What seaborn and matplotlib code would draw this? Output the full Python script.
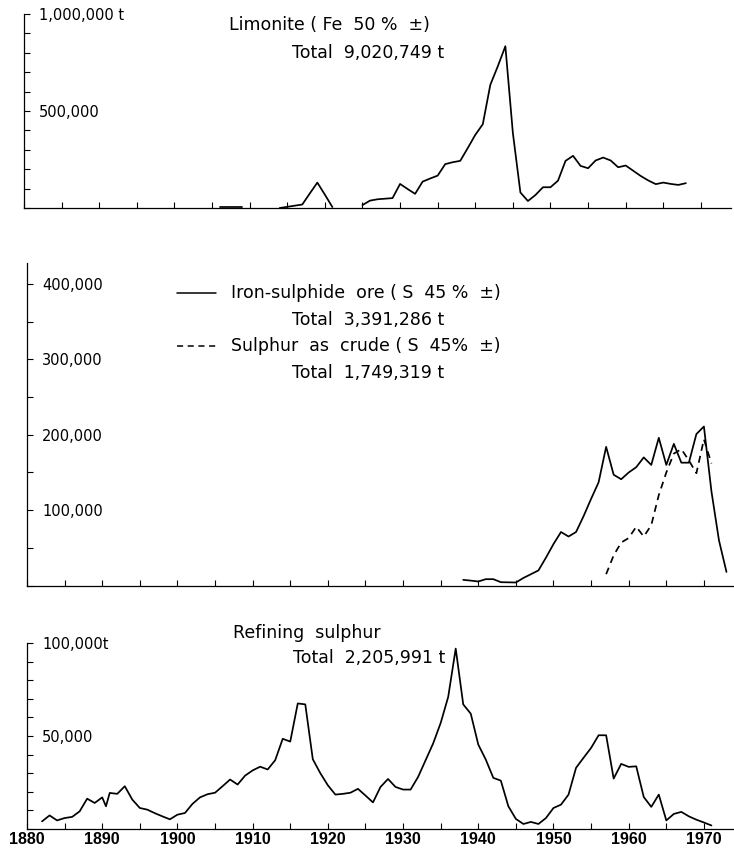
import numpy as np
import pandas as pd
import matplotlib
matplotlib.use("Agg")
import matplotlib.pyplot as plt
from matplotlib.lines import Line2D
from matplotlib.ticker import FixedLocator, FixedFormatter
import seaborn as sns

# ---------------------------------------------------------------------------
# Annual output, in thousand tonnes
# ---------------------------------------------------------------------------
# Limonite (Fe 50 % ±) - production came in three separate runs
limonite_years_1 = [1906, 1907, 1908, 1909]
limonite_values_1 = [3, 3, 3, 3]
limonite_years_2 = [1914, 1915, 1916, 1917, 1918, 1919, 1920, 1921]
limonite_values_2 = [0, 6, 12, 18, 75, 131, 69, 5]
limonite_years_3 = list(range(1925, 1969))
limonite_values_3 = [15, 38, 45, 48, 51, 124, 98, 73, 136, 152,
                     167, 226, 236, 243, 309, 377, 432, 635, 731, 834,
                     386, 80, 36, 67, 107, 107, 141, 243, 269, 217,
                     205, 245, 260, 245, 210, 219, 192, 165, 142, 123,
                     131, 124, 119, 128]

# Iron-sulphide ore (S 45 % ±)
pyrite_years = list(range(1938, 1974))
pyrite_values = [7.5, 6.5, 5.3, 8.4, 8.4, 4.4, 4.2, 4.0, 10, 15,
                 20, 37, 55, 71, 65, 71, 92, 115, 137, 184,
                 147, 141, 150, 157, 170, 160, 196, 160, 188, 163,
                 163, 201, 211, 125, 60, 18]

# Sulphur as crude (S 45 % ±)
crude_years = list(range(1957, 1972))
crude_values = [15, 40, 57, 63, 78, 65, 80, 120, 150, 175,
                181, 166, 149, 194, 162]

# Refining sulphur
refining_years = [1882, 1883, 1884, 1885, 1886, 1887, 1888, 1889, 1890, 1890.5,
                  1891, 1892, 1893, 1894, 1895, 1896, 1897, 1898, 1899, 1900,
                  1901, 1902, 1903, 1904, 1905, 1906, 1907, 1908, 1909, 1910,
                  1911, 1912, 1913, 1914, 1915, 1916, 1917, 1918, 1919, 1920,
                  1921, 1922, 1923, 1924, 1925, 1926, 1927, 1928, 1929, 1930,
                  1931, 1932, 1933, 1934, 1935, 1936, 1937, 1938, 1939, 1940,
                  1941, 1942, 1943, 1944, 1945, 1946, 1947, 1948, 1949, 1950,
                  1951, 1952, 1953, 1954, 1955, 1956, 1957, 1958, 1959, 1960,
                  1961, 1962, 1963, 1964, 1965, 1966, 1967, 1968, 1969, 1970,
                  1971]
refining_values = [4.1, 7.3, 4.6, 5.9, 6.5, 9.5, 16.3, 14.0, 17.0, 12.2,
                   19.4, 18.9, 23.0, 15.8, 11.3, 10.4, 8.5, 6.8, 5.2, 7.7,
                   8.6, 13.5, 17.0, 18.7, 19.5, 23.0, 26.6, 23.9, 28.7, 31.5,
                   33.5, 32.0, 37.0, 48.5, 47.0, 67.5, 67.0, 37.5, 30.0, 23.5,
                   18.5, 18.9, 19.5, 21.6, 18.0, 14.3, 22.6, 26.9, 22.6, 21.2,
                   21.2, 28.0, 37.0, 46.0, 57.0, 71.0, 97.0, 67.0, 62.0, 45.4,
                   37.3, 27.5, 26.0, 12.2, 5.4, 2.7, 3.8, 2.7, 5.9, 11.3,
                   13.1, 18.5, 32.9, 38.3, 43.6, 50.4, 50.4, 27.1, 35.0, 33.4,
                   33.7, 17.2, 11.9, 18.5, 4.6, 8.1, 9.2, 6.8, 5.0, 3.5,
                   1.9]

# Axis annotations
x_ticks = list(range(1880, 1971, 5))
x_labels = [str(y) if y % 10 == 0 else "" for y in x_ticks]
top_ticks = list(range(0, 1_000_001, 100_000))
top_labels = {500_000: "500,000", 1_000_000: "1,000,000 t"}
mid_ticks = list(range(0, 400_001, 50_000))
mid_labels = {100_000: "100,000", 200_000: "200,000",
              300_000: "300,000", 400_000: "400,000"}
bot_ticks = list(range(0, 100_001, 10_000))
bot_labels = {50_000: "50,000", 100_000: "100,000t"}

# ---------------------------------------------------------------------------
# Tidy tables
# ---------------------------------------------------------------------------
limonite = pd.concat([
    pd.DataFrame({"year": limonite_years_1, "kt": limonite_values_1, "run": 1}),
    pd.DataFrame({"year": limonite_years_2, "kt": limonite_values_2, "run": 2}),
    pd.DataFrame({"year": limonite_years_3, "kt": limonite_values_3, "run": 3}),
], ignore_index=True)
limonite["tonnes"] = limonite["kt"] * 1000

sulphide = pd.concat([
    pd.DataFrame({"year": pyrite_years, "kt": pyrite_values,
                  "series": "Iron-sulphide ore"}),
    pd.DataFrame({"year": crude_years, "kt": crude_values,
                  "series": "Sulphur as crude"}),
], ignore_index=True)
sulphide["tonnes"] = sulphide["kt"] * 1000

refining = pd.DataFrame({"year": refining_years, "kt": refining_values})
refining["tonnes"] = refining["kt"] * 1000

# ---------------------------------------------------------------------------
# Figure
# ---------------------------------------------------------------------------
sns.set_style("ticks")
plt.rcParams["font.family"] = ["DejaVu Sans"]

W, H = 734, 850
fig = plt.figure(figsize=(W / 100, H / 100), dpi=100)


def box(left, top, right, bottom):
    return [left / W, 1 - bottom / H, (right - left) / W, (bottom - top) / H]


def at(x, y):
    return x / W, 1 - y / H


ax_top = fig.add_axes(box(24, 14, 731, 208))
ax_mid = fig.add_axes(box(27, 263, 734, 585.5))
ax_bot = fig.add_axes(box(27, 643, 734, 829))

LW = 1.25
sns.lineplot(data=limonite, x="year", y="tonnes", units="run",
             estimator=None, color="black", lw=LW, ax=ax_top, legend=False)
sns.lineplot(data=sulphide, x="year", y="tonnes", style="series",
             dashes={"Iron-sulphide ore": "", "Sulphur as crude": (4, 3)},
             estimator=None, color="black", lw=LW, ax=ax_mid, legend=False)
sns.lineplot(data=refining, x="year", y="tonnes", estimator=None,
             color="black", lw=LW, ax=ax_bot, legend=False)


def style_axis(ax, yticks, ylabels, ymax, show_x):
    ax.set_xlim(1880, 1974)
    ax.set_ylim(0, ymax)
    sns.despine(ax=ax)
    for side in ("left", "bottom"):
        ax.spines[side].set_linewidth(0.9)
        ax.spines[side].set_color("black")
    ax.set_xlabel("")
    ax.set_ylabel("")
    ax.xaxis.set_major_locator(FixedLocator(x_ticks))
    ax.xaxis.set_major_formatter(
        FixedFormatter(x_labels if show_x else [""] * len(x_ticks)))
    ax.yaxis.set_major_locator(FixedLocator(yticks))
    ax.yaxis.set_major_formatter(
        FixedFormatter([ylabels.get(v, "") for v in yticks]))
    ax.tick_params(axis="x", direction="in", length=4, width=0.8,
                   colors="black", pad=2.5)
    ax.tick_params(axis="y", direction="in", length=4, width=0.8,
                   colors="black", pad=-11, labelsize=10.5)
    for lab in ax.get_yticklabels():
        lab.set_horizontalalignment("left")
    for lab in ax.get_xticklabels():
        lab.set_fontfamily("Liberation Sans")
        lab.set_fontweight("bold")
        lab.set_fontsize(11.5)
    ax.patch.set_alpha(0)


style_axis(ax_top, top_ticks, top_labels, 1_000_000, False)
style_axis(ax_mid, mid_ticks, mid_labels, 428_000, False)
style_axis(ax_bot, bot_ticks, bot_labels, 100_000, True)

# Panel headings
TXT = dict(ha="left", va="center", fontsize=12.5, color="black")
fig.text(*at(229, 25), "Limonite ( Fe  50 %  ±)", **TXT)
fig.text(*at(292, 53), "Total  9,020,749 t", **TXT)

fig.add_artist(Line2D([177 / W, 216 / W], [1 - 293 / H] * 2, color="black",
                      lw=1.1, transform=fig.transFigure))
fig.text(*at(231, 293), "Iron-sulphide  ore ( S  45 %  ±)", **TXT)
fig.text(*at(292, 320), "Total  3,391,286 t", **TXT)
fig.add_artist(Line2D([177 / W, 216 / W], [1 - 346 / H] * 2, color="black",
                      lw=1.1, ls=(0, (4, 3)), transform=fig.transFigure))
fig.text(*at(231, 346), "Sulphur  as  crude ( S  45%  ±)", **TXT)
fig.text(*at(292, 373), "Total  1,749,319 t", **TXT)

fig.text(*at(233, 633), "Refining  sulphur", **TXT)
fig.text(*at(293, 658), "Total  2,205,991 t", **TXT)

fig.savefig("out.png", dpi=100)
